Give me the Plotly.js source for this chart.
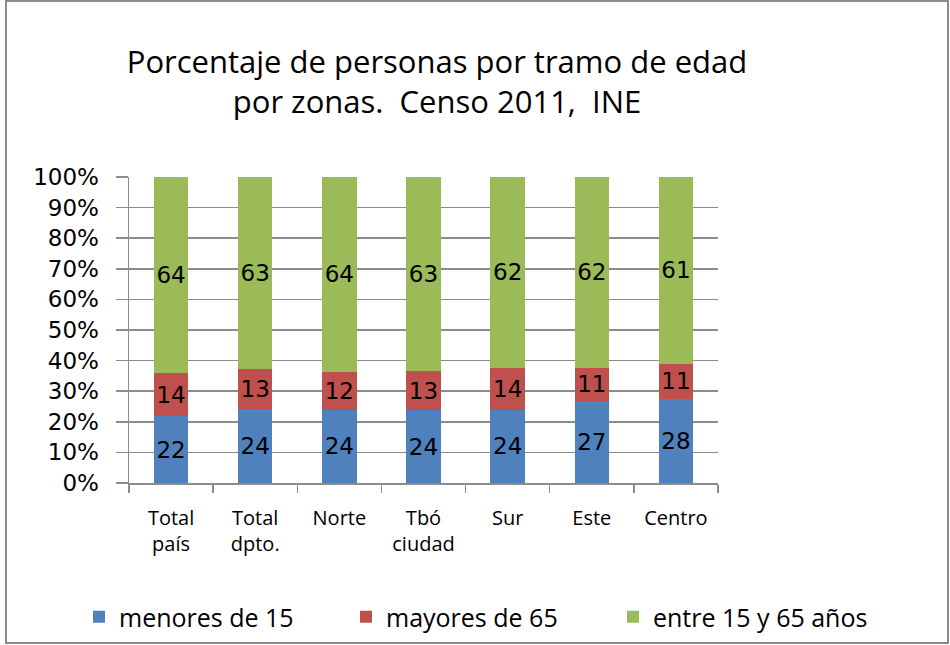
<!DOCTYPE html>
<html>
<head>
<meta charset="utf-8">
<script src="https://cdn.plot.ly/plotly-3.0.1.min.js"></script>
<style>
  html, body { margin: 0; padding: 0; background: #ffffff; }
  #chart { width: 950px; height: 645px; }
</style>
</head>
<body>
<div id="chart"></div>
<script>
// Categories (zones)
const categories = ["Total<br>país", "Total<br>dpto.", "Norte", "Tbó<br>ciudad", "Sur", "Este", "Centro"];

// Series values (percent of persons)
const menores15 = [21.8, 24.3, 24.0, 23.7, 24.0, 26.9, 27.6];
const mayores65 = [14.1, 12.8, 12.4, 12.9, 13.6, 10.7, 11.3];
const entre15y65 = [64.1, 62.9, 63.6, 63.4, 62.4, 62.4, 61.1];

// Series names
const seriesNames = ["menores de 15", "mayores de 65", "entre 15 y 65 años"];

// Y tick labels
const yTickVals = [0, 10, 20, 30, 40, 50, 60, 70, 80, 90, 100];
const yTickText = ["0%", "10%", "20%", "30%", "40%", "50%", "60%", "70%", "80%", "90%", "100%"];

const colors = ["#4F81BD", "#C0504D", "#9BBB59"];
const seriesValues = [menores15, mayores65, entre15y65];

const labelFont = { family: "DejaVu Sans, Verdana, sans-serif", size: 23, color: "#000000" };
const textFamily = "'Open Sans', Lato, sans-serif";

const traces = seriesValues.map((vals, i) => ({
  type: "bar",
  name: seriesNames[i],
  x: categories,
  y: vals,
  marker: { color: colors[i], line: { width: 0 } },
  texttemplate: "%{y:.0f}",
  textposition: "inside",
  insidetextanchor: "middle",
  textangle: 0,
  constraintext: "none",
  insidetextfont: labelFont,
  hoverinfo: "skip"
}));

// plot area pixel geometry
const W = 950, H = 645;
const mL = 129, mR = 232, mT = 177, mB = 162;
const pw = W - mL - mR, ph = H - mT - mB;
const px = (x) => (x - mL) / pw;
const py = (y) => (H - mB - y) / ph;

const layout = {
  width: W,
  height: H,
  margin: { l: mL, r: mR, t: mT, b: mB, pad: 0, autoexpand: false },
  paper_bgcolor: "#ffffff",
  plot_bgcolor: "#ffffff",
  barmode: "stack",
  bargap: 0.59,
  showlegend: true,
  title: {
    text: "Porcentaje de personas por tramo de edad<br>por zonas.  Censo 2011,  INE",
    font: { family: textFamily, size: 31, color: "#000000" },
    xref: "container", yref: "container",
    x: 437 / W, y: 1 - 73 / H,
    xanchor: "center", yanchor: "middle"
  },
  xaxis: {
    type: "category",
    showgrid: false,
    showline: true,
    linecolor: "#8c8c8c",
    linewidth: 1.5,
    ticks: "outside",
    tickson: "boundaries",
    ticklen: 8,
    tickcolor: "#8c8c8c",
    tickwidth: 1.5,
    tickfont: { family: textFamily, size: 20, color: "#000000" },
    ticklabelstandoff: 16,
    fixedrange: true
  },
  yaxis: {
    range: [0, 100],
    tickvals: yTickVals,
    ticktext: yTickText,
    showgrid: true,
    gridcolor: "#8c8c8c",
    gridwidth: 1.5,
    showline: true,
    linecolor: "#8c8c8c",
    linewidth: 1.5,
    ticks: "outside",
    ticklen: 12,
    tickcolor: "#8c8c8c",
    tickwidth: 1.5,
    zeroline: false,
    tickfont: { family: "DejaVu Sans, Verdana, sans-serif", size: 23, color: "#000000" },
    ticklabelstandoff: 12,
    fixedrange: true
  },
  legend: {
    orientation: "h",
    xref: "paper", yref: "paper",
    x: px(880), y: py(617),
    xanchor: "right", yanchor: "middle",
    entrywidth: 222,
    entrywidthmode: "pixels",
    bgcolor: "rgba(0,0,0,0)",
    font: { family: textFamily, size: 25, color: "#000000" },
    itemclick: false,
    itemdoubleclick: false,
    traceorder: "normal"
  },
  shapes: [{
    type: "rect",
    xref: "paper", yref: "paper",
    x0: px(6), x1: px(948), y0: py(643), y1: py(1),
    line: { color: "#8c8c8c", width: 2 },
    fillcolor: "rgba(0,0,0,0)",
    layer: "below"
  }]
};

Plotly.newPlot("chart", traces, layout, { displayModeBar: false, staticPlot: true });
</script>
</body>
</html>
